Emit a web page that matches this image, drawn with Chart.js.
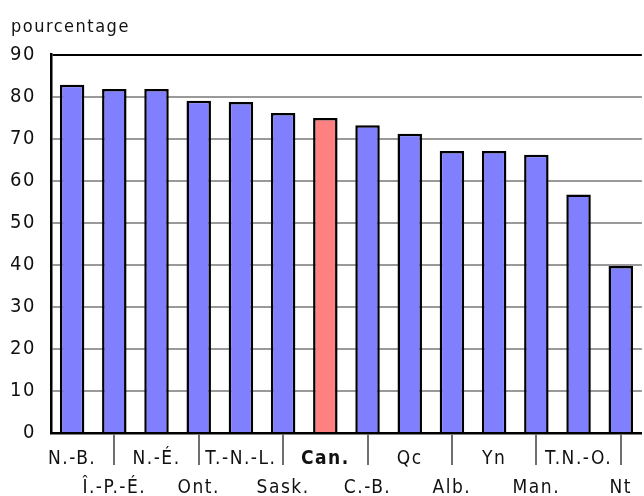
<!DOCTYPE html>
<html lang="fr">
<head>
    <meta charset="UTF-8">
    <title>pourcentage par province</title>
    <style>
        body {
            margin: 0;
            background: #ffffff;
        }
        #chart {
            display: block;
        }
    </style>
</head>
<body>
    <canvas id="chart" width="644" height="496"></canvas>

    <script src="https://cdn.jsdelivr.net/npm/chart.js"></script>
    <script>
        // data
        const regions = ['N.-B.', 'Î.-P.-É.', 'N.-É.', 'Ont.', 'T.-N.-L.', 'Sask.', 'Can.',
                         'C.-B.', 'Qc', 'Alb.', 'Yn', 'Man.', 'T.N.-O.', 'Nt'];
        const percentages = [82.8, 81.8, 81.8, 79.0, 78.7, 76.1, 74.9,
                             73.2, 71.2, 67.1, 67.1, 66.2, 56.7, 39.7];
        const highlighted = 'Can.';
        const yTicks = [0, 10, 20, 30, 40, 50, 60, 70, 80, 90];

        const fontFamily = "'DejaVu Sans Condensed', 'Liberation Sans', Arial, sans-serif";
        const blue = '#8080ff';
        const red = '#ff8080';

        // Canvas letter spacing, the original labels are widely tracked
        const tracking = {
            id: 'tracking',
            beforeLayout(chart) { chart.ctx.letterSpacing = '1.5px'; },
            beforeDraw(chart) { chart.ctx.letterSpacing = '1.5px'; }
        };

        // small separators under the axis, one under each label of the lower row
        const separators = {
            id: 'separators',
            afterDraw(chart) {
                const x = chart.scales.x;
                const ctx = chart.ctx;
                ctx.save();
                ctx.strokeStyle = '#6e6e6e';
                ctx.lineWidth = 2;
                for (let i = 1; i < regions.length; i += 2) {
                    const px = Math.round(x.getPixelForValue(i));
                    ctx.beginPath();
                    ctx.moveTo(px, x.top + 1);
                    ctx.lineTo(px, x.top + 32);
                    ctx.stroke();
                }
                ctx.restore();
            }
        };

        const chart = new Chart(document.getElementById('chart'), {
            type: 'bar',
            data: {
                labels: regions,
                datasets: [{
                    data: percentages,
                    backgroundColor: regions.map(r => r === highlighted ? red : blue),
                    borderColor: '#000000',
                    borderWidth: 2.5,
                    borderSkipped: 'start',
                    categoryPercentage: 1,
                    barPercentage: 0.58
                }]
            },
            options: {
                responsive: false,
                animation: false,
                layout: {
                    padding: { left: 11, right: 0, top: 0, bottom: 0 }
                },
                plugins: {
                    legend: { display: false },
                    tooltip: { enabled: false },
                    title: {
                        display: true,
                        text: 'pourcentage',
                        align: 'start',
                        color: '#111111',
                        font: { family: fontFamily, size: 18, weight: 'normal', lineHeight: 1.2 },
                        padding: { top: 17, bottom: 16 }
                    }
                },
                scales: {
                    x: {
                        grid: { display: false, drawTicks: false },
                        border: { display: true, color: '#000000', width: 2.5 },
                        ticks: {
                            autoSkip: false,
                            maxRotation: 0,
                            padding: 12,
                            color: '#111111',
                            font: ctx => ({
                                family: fontFamily,
                                size: 19,
                                lineHeight: 1.5,
                                weight: regions[ctx.index] === highlighted ? 'bold' : 'normal'
                            }),
                            // alternate the labels over two rows
                            callback: (value, index) => index % 2 ? ['', regions[index]] : regions[index]
                        },
                        afterFit: scale => { scale.height = 63; }
                    },
                    y: {
                        min: 0,
                        max: 90,
                        afterBuildTicks: scale => { scale.ticks = yTicks.map(v => ({ value: v })); },
                        grid: {
                            drawTicks: false,
                            lineWidth: 2,
                            color: ctx => ctx.tick && ctx.tick.value === 90 ? '#000000' : '#999999'
                        },
                        border: { display: true, color: '#000000', width: 2.5 },
                        ticks: {
                            padding: 15,
                            color: '#111111',
                            font: { family: fontFamily, size: 20 }
                        },
                        afterFit: scale => { scale.width = 40; }
                    }
                }
            },
            plugins: [tracking, separators]
        });
    </script>
</body>
</html>
